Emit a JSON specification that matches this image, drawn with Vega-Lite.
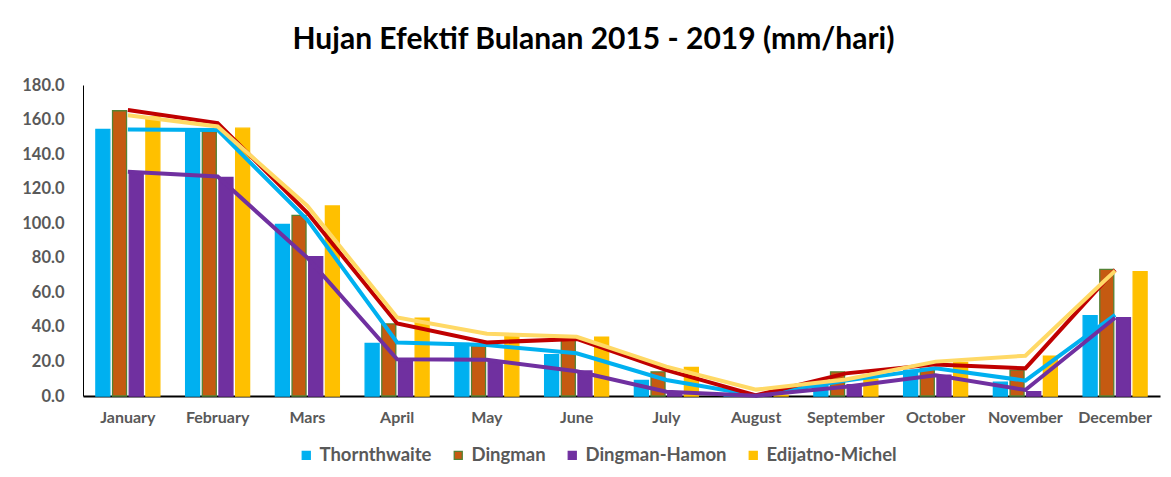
{
  "$schema": "https://vega.github.io/schema/vega-lite/v6.json",
  "width": 1077,
  "height": 311,
  "autosize": {"type": "none"},
  "padding": {"left": 83, "top": 85, "right": 11, "bottom": 81},
  "background": "white",
  "title": {"text": "Hujan Efektif Bulanan 2015 - 2019 (mm/hari)", "font": "Lato", "fontSize": 30, "fontWeight": "bold", "color": "#000000", "anchor": "middle", "dx": -28, "offset": 22},
  "data": {"values": [
    {"month": "January", "method": "Thornthwaite", "bar": 154.3, "line": 154.3},
    {"month": "January", "method": "Dingman", "bar": 165.1, "line": 165.5},
    {"month": "January", "method": "Dingman-Hamon", "bar": 129.0, "line": 129.8},
    {"month": "January", "method": "Edijatno-Michel", "bar": 161.5, "line": 162.5},
    {"month": "February", "method": "Thornthwaite", "bar": 153.0, "line": 154.0},
    {"month": "February", "method": "Dingman", "bar": 153.0, "line": 158.0},
    {"month": "February", "method": "Dingman-Hamon", "bar": 126.5, "line": 127.0},
    {"month": "February", "method": "Edijatno-Michel", "bar": 155.0, "line": 156.0},
    {"month": "Mars", "method": "Thornthwaite", "bar": 99.3, "line": 102.0},
    {"month": "Mars", "method": "Dingman", "bar": 104.5, "line": 106.0},
    {"month": "Mars", "method": "Dingman-Hamon", "bar": 80.6, "line": 80.0},
    {"month": "Mars", "method": "Edijatno-Michel", "bar": 110.0, "line": 110.0},
    {"month": "April", "method": "Thornthwaite", "bar": 30.5, "line": 31.0},
    {"month": "April", "method": "Dingman", "bar": 41.7, "line": 42.0},
    {"month": "April", "method": "Dingman-Hamon", "bar": 21.0, "line": 21.2},
    {"month": "April", "method": "Edijatno-Michel", "bar": 45.0, "line": 45.5},
    {"month": "May", "method": "Thornthwaite", "bar": 30.5, "line": 29.5},
    {"month": "May", "method": "Dingman", "bar": 29.0, "line": 31.0},
    {"month": "May", "method": "Dingman-Hamon", "bar": 20.0, "line": 21.0},
    {"month": "May", "method": "Edijatno-Michel", "bar": 34.5, "line": 36.0},
    {"month": "June", "method": "Thornthwaite", "bar": 24.0, "line": 24.7},
    {"month": "June", "method": "Dingman", "bar": 32.5, "line": 33.0},
    {"month": "June", "method": "Dingman-Hamon", "bar": 14.5, "line": 14.3},
    {"month": "June", "method": "Edijatno-Michel", "bar": 34.0, "line": 34.3},
    {"month": "July", "method": "Thornthwaite", "bar": 9.0, "line": 9.3},
    {"month": "July", "method": "Dingman", "bar": 14.0, "line": 15.0},
    {"month": "July", "method": "Dingman-Hamon", "bar": 2.0, "line": 2.5},
    {"month": "July", "method": "Edijatno-Michel", "bar": 16.5, "line": 17.0},
    {"month": "August", "method": "Thornthwaite", "bar": 0.3, "line": 0.3},
    {"month": "August", "method": "Dingman", "bar": 0.4, "line": 0.4},
    {"month": "August", "method": "Dingman-Hamon", "bar": 0.2, "line": 0.2},
    {"month": "August", "method": "Edijatno-Michel", "bar": 0.5, "line": 3.7},
    {"month": "September", "method": "Thornthwaite", "bar": 7.8, "line": 8.9},
    {"month": "September", "method": "Dingman", "bar": 14.0, "line": 13.1},
    {"month": "September", "method": "Dingman-Hamon", "bar": 6.5, "line": 5.4},
    {"month": "September", "method": "Edijatno-Michel", "bar": 9.8, "line": 9.6},
    {"month": "October", "method": "Thornthwaite", "bar": 15.0, "line": 16.0},
    {"month": "October", "method": "Dingman", "bar": 16.0, "line": 18.3},
    {"month": "October", "method": "Dingman-Hamon", "bar": 12.0, "line": 12.0},
    {"month": "October", "method": "Edijatno-Michel", "bar": 19.5, "line": 19.9},
    {"month": "November", "method": "Thornthwaite", "bar": 8.0, "line": 8.9},
    {"month": "November", "method": "Dingman", "bar": 15.0, "line": 16.0},
    {"month": "November", "method": "Dingman-Hamon", "bar": 2.5, "line": 3.5},
    {"month": "November", "method": "Edijatno-Michel", "bar": 23.0, "line": 23.3},
    {"month": "December", "method": "Thornthwaite", "bar": 46.5, "line": 46.9},
    {"month": "December", "method": "Dingman", "bar": 73.3, "line": 73.0},
    {"month": "December", "method": "Dingman-Hamon", "bar": 45.3, "line": 45.3},
    {"month": "December", "method": "Edijatno-Michel", "bar": 72.0, "line": 72.5}
  ]},
  "encoding": {
    "x": {
      "field": "month", "type": "nominal",
      "sort": ["January", "February", "Mars", "April", "May", "June", "July", "August", "September", "October", "November", "December"],
      "scale": {"paddingInner": 0.287, "paddingOuter": 0.1435},
      "axis": {"title": null, "labelAngle": 0, "ticks": false, "domainColor": "#000000", "domainWidth": 2, "labelPadding": 13, "labelFont": "Lato", "labelFontSize": 16, "labelFontWeight": "bold", "labelColor": "#595959", "labelOverlap": false}
    }
  },
  "layer": [
    {
      "mark": {"type": "bar", "strokeWidth": 1.3},
      "encoding": {
        "xOffset": {"field": "method", "type": "nominal", "sort": ["Thornthwaite", "Dingman", "Dingman-Hamon", "Edijatno-Michel"], "scale": {"paddingInner": 0.16, "paddingOuter": 0}},
        "y": {
          "field": "bar", "type": "quantitative",
          "scale": {"domain": [0, 180]},
          "axis": {"title": null, "values": [0, 20, 40, 60, 80, 100, 120, 140, 160, 180], "format": ".1f", "grid": false, "ticks": false, "domainColor": "#000000", "labelPadding": 19, "labelFont": "Lato", "labelFontSize": 16.5, "labelFontWeight": "bold", "labelColor": "#595959", "labelOverlap": false, "labelBound": false}
        },
        "fill": {
          "field": "method", "type": "nominal",
          "sort": ["Thornthwaite", "Dingman", "Dingman-Hamon", "Edijatno-Michel"],
          "scale": {"domain": ["Thornthwaite", "Dingman", "Dingman-Hamon", "Edijatno-Michel"], "range": ["#00B0F0", "#C55A11", "#7030A0", "#FFC000"]},
          "legend": {"title": null, "orient": "none", "direction": "horizontal", "legendX": 214, "legendY": 361, "symbolType": "square", "symbolSize": 64, "labelFont": "Lato", "labelFontSize": 18.5, "labelFontWeight": "bold", "labelColor": "#595959", "columnPadding": 17, "labelOffset": 4, "symbolStrokeWidth": 1.3}
        },
        "stroke": {
          "field": "method", "type": "nominal",
          "sort": ["Thornthwaite", "Dingman", "Dingman-Hamon", "Edijatno-Michel"],
          "scale": {"domain": ["Thornthwaite", "Dingman", "Dingman-Hamon", "Edijatno-Michel"], "range": ["#00B0F0", "#548235", "#7030A0", "#FFC000"]},
          "legend": {"title": null, "orient": "none", "direction": "horizontal", "legendX": 214, "legendY": 361, "symbolType": "square", "symbolSize": 64, "labelFont": "Lato", "labelFontSize": 18.5, "labelFontWeight": "bold", "labelColor": "#595959", "columnPadding": 17, "labelOffset": 4, "symbolStrokeWidth": 1.3}
        }
      }
    },
    {
      "mark": {"type": "line", "strokeWidth": 4},
      "encoding": {
        "y": {
          "field": "line", "type": "quantitative",
          "axis": {"title": null, "values": [0, 20, 40, 60, 80, 100, 120, 140, 160, 180], "format": ".1f", "grid": false, "ticks": false, "domainColor": "#000000", "labelPadding": 19, "labelFont": "Lato", "labelFontSize": 16.5, "labelFontWeight": "bold", "labelColor": "#595959", "labelOverlap": false, "labelBound": false}
        },
        "color": {
          "field": "method", "type": "nominal",
          "scale": {"domain": ["Thornthwaite", "Dingman-Hamon", "Dingman", "Edijatno-Michel"], "range": ["#00B0F0", "#7030A0", "#C00000", "#FFD966"]},
          "legend": null
        }
      }
    }
  ],
  "config": {"view": {"stroke": null}, "axis": {"labelOverlap": false}}
}
